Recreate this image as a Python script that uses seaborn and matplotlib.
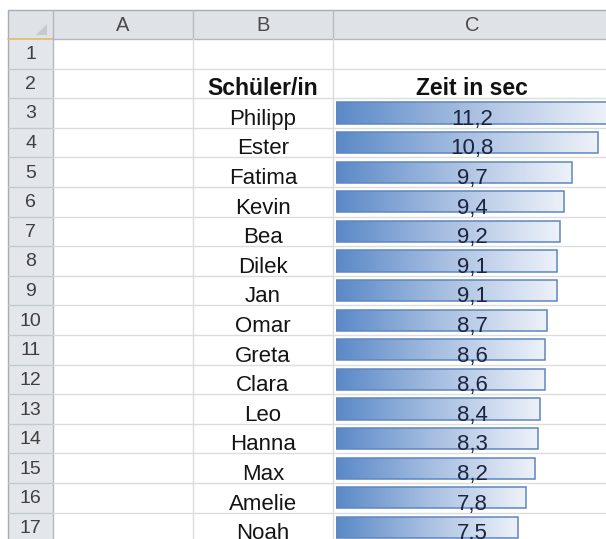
import numpy as np
import seaborn as sns
import matplotlib.pyplot as plt
from matplotlib.colors import LinearSegmentedColormap
from matplotlib.patches import Rectangle, Polygon

# data from the sheet
names = ["Philipp", "Ester", "Fatima", "Kevin", "Bea", "Dilek", "Jan", "Omar",
         "Greta", "Clara", "Leo", "Hanna", "Max", "Amelie", "Noah"]
times = [11.2, 10.8, 9.7, 9.4, 9.2, 9.1, 9.1, 8.7, 8.6, 8.6, 8.4, 8.3, 8.2, 7.8, 7.5]
col_letters = ["A", "B", "C"]
head_name = "Schüler/in"
head_time = "Zeit in sec"

sns.set_style("white")
plt.rcParams['font.family'] = ['Liberation Sans', 'DejaVu Sans']

W, H = 606, 539
fig = plt.figure(figsize=(W / 100, H / 100), dpi=100)

# sheet frame in pixel coords
bg = fig.add_axes([0, 0, 1, 1])
bg.set_xlim(0, W)
bg.set_ylim(H, 0)
bg.axis("off")

left, top = 8, 10
head_bot = 39
row_h = 29.6
col_x = [53, 193, 333, 611]
n_rows = 17

def row_top(i):
    return head_bot + (i - 1) * row_h

# header and row number column
bg.add_patch(Rectangle((left, top), W - left, head_bot - top, fc="#dfe3e8", ec="none"))
bg.add_patch(Rectangle((left, head_bot), col_x[0] - left, H - head_bot, fc="#e3e7ec", ec="none"))
bg.plot([left, W], [top, top], color="#a9adb2", lw=1)
bg.plot([left, left], [top, H], color="#a9adb2", lw=1)
bg.plot([col_x[0], W], [head_bot, head_bot], color="#b3b8be", lw=1)
bg.plot([left, col_x[0]], [head_bot, head_bot], color="#e6b86a", lw=1.2)
bg.plot([col_x[0], col_x[0]], [top, H], color="#b3b8be", lw=1)
for x in col_x[1:3]:
    bg.plot([x, x], [top, head_bot], color="#b8bdc3", lw=1)
    bg.plot([x, x], [head_bot, H], color="#dadcdf", lw=1)
bg.add_patch(Polygon([[47, 24], [47, 35], [36, 35]], closed=True, fc="#c6cad0", ec="none"))

for i in range(1, n_rows + 1):
    yb = row_top(i) + row_h
    bg.plot([left, col_x[0]], [yb, yb], color="#c4c9cf", lw=1)
    bg.plot([col_x[0], W], [yb, yb], color="#dadcdf", lw=1)
    bg.text((left + col_x[0]) / 2, row_top(i) + row_h / 2 + 1, str(i), ha="center",
            va="center", fontsize=14, color="#3f3f3f")

for k, letter in enumerate(col_letters):
    bg.text((col_x[k] + col_x[k + 1]) / 2, (top + head_bot) / 2 + 1, letter,
            ha="center", va="center", fontsize=14.5, color="#4a4a4a")

cx_b = (col_x[1] + col_x[2]) / 2
cx_c = (col_x[2] + col_x[3]) / 2
base2 = row_top(2) + row_h - 3
bg.text(cx_b, base2, head_name, ha="center", va="baseline", fontsize=16.5,
        fontweight="bold", color="#111111")
bg.text(cx_c, base2, head_time, ha="center", va="baseline", fontsize=16.5,
        fontweight="bold", color="#111111")

# data bars in column C
x0 = 336
px_per = 24.3
ax_top = row_top(3)
ax_h = len(names) * row_h
ax = fig.add_axes([x0 / W, 1 - (ax_top + ax_h) / H, (col_x[3] - x0) / W, ax_h / H])
ax.patch.set_visible(False)
sns.barplot(x=times, y=names, orient="h", ax=ax, width=0.71, color="#5a89c7",
            edgecolor="#5f86c0", linewidth=1.1, zorder=3)
xmax = (col_x[3] - x0) / px_per

cmap = LinearSegmentedColormap.from_list("bar", ["#5a89c7", "#a9c0e2", "#eef2f9"])
grad = np.linspace(0, 1, 256).reshape(1, -1)
for p in list(ax.patches):
    p.set_facecolor("none")
    bx, by = p.get_x(), p.get_y()
    bw, bh = p.get_width(), p.get_height()
    im = ax.imshow(grad, extent=[bx, bx + bw, by + bh, by], cmap=cmap,
                   aspect="auto", zorder=2, interpolation="bicubic")
    im.set_clip_path(p)
ax.set_xlim(0, xmax)
ax.set_ylim(len(names) - 0.5, -0.5)
ax.axis("off")

for j, (nm, t) in enumerate(zip(names, times)):
    yb = row_top(3 + j) + row_h - 3
    bg.text(cx_b, yb, nm, ha="center", va="baseline", fontsize=16, color="#141414")
    ax_txt = f"{t:.1f}".replace(".", ",")
    fig.text(cx_c / W, 1 - yb / H, ax_txt, ha="center", va="baseline",
             fontsize=16, color="#1c2440", zorder=10)

fig.savefig("out.png", dpi=100)
